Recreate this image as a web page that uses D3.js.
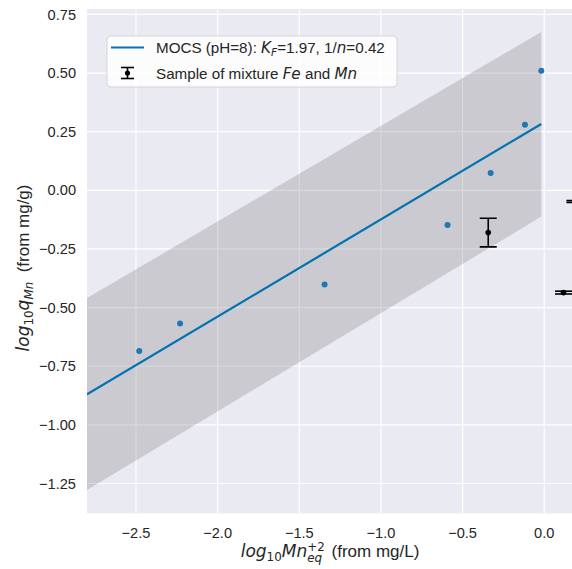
<!DOCTYPE html>
<html>
<head>
<meta charset="utf-8">
<script src="https://cdn.jsdelivr.net/npm/d3@7"></script>
<style>
	body { margin: 0; background: #ffffff; }
	svg { display: block; font-family: "Liberation Sans", Arial, sans-serif; }
</style>
</head>
<body>
<svg id="chart" width="572" height="569"></svg>
<script>
// Freundlich isotherm (log-log) for Mn on MOCS, with mixture samples as error bars

	// Measured points (blue dots)
var obsX = [-2.48, -2.23, -1.345, -0.592, -0.328, -0.118, -0.018];
var obsY = [-0.685, -0.568, -0.402, -0.148, 0.074, 0.279, 0.510];

	// Fitted line endpoints and the grey confidence band
var fitX = [-2.80, -0.018];
var fitY = [-0.870, 0.283];
var bandUp = [-0.459, 0.675];
var bandLo = [-1.278, -0.112];

	// Samples of mixture Fe and Mn (black error bars)
var mixX = [-0.343, 0.118, 0.188];
var mixY = [-0.180, -0.436, -0.048];
var mixErr = [0.061, 0.006, 0.004];

var xTicks = [-2.5, -2.0, -1.5, -1.0, -0.5, 0.0];
var yTicks = [0.75, 0.50, 0.25, 0.00, -0.25, -0.50, -0.75, -1.00, -1.25];

var M = { l: 87, t: 9, b: 513.3 };
var MATH = "'DejaVu Sans', sans-serif";

var svg = d3.select("#chart");

var x = d3.scaleLinear().domain([-2.8, 0.2]).range([M.l, M.l + 3*163.3]);
var y = d3.scaleLinear().domain([-1.377, 0.773]).range([M.b, M.t]);

var minus = function(v, n) { return d3.format("." + n + "f")(v).replace("-", "\u2212"); };

	// Plot background
svg.append("rect")
	.attr("x", M.l).attr("y", M.t)
	.attr("width", x.range()[1] - M.l).attr("height", M.b - M.t)
	.attr("fill", "#eaeaf2");

svg.append("clipPath").attr("id", "clip")
	.append("rect")
	.attr("x", M.l).attr("y", M.t)
	.attr("width", x.range()[1] - M.l).attr("height", M.b - M.t);

	// Gridlines (white, seaborn darkgrid)
var grid = svg.append("g");
grid.selectAll(".gx").data(xTicks).enter().append("line")
	.attr("x1", function(d) { return x(d); }).attr("x2", function(d) { return x(d); })
	.attr("y1", M.t).attr("y2", M.b)
	.attr("stroke", "#ffffff").attr("stroke-width", 1.2);
grid.selectAll(".gy").data(yTicks).enter().append("line")
	.attr("x1", M.l).attr("x2", x.range()[1])
	.attr("y1", function(d) { return y(d); }).attr("y2", function(d) { return y(d); })
	.attr("stroke", "#ffffff").attr("stroke-width", 1.2);

var plot = svg.append("g").attr("clip-path", "url(#clip)");

	// Confidence band
var bandPts = fitX.map(function(v, i) { return { x: v, lo: bandLo[i], hi: bandUp[i] }; });
plot.append("path")
	.datum(bandPts)
	.attr("d", d3.area()
		.x(function(d) { return x(d.x); })
		.y0(function(d) { return y(d.lo); })
		.y1(function(d) { return y(d.hi); }))
	.attr("fill", "#808080").attr("fill-opacity", 0.3);

	// Fitted line
plot.append("path")
	.datum(d3.zip(fitX, fitY))
	.attr("d", d3.line()
		.x(function(d) { return x(d[0]); })
		.y(function(d) { return y(d[1]); }))
	.attr("fill", "none").attr("stroke", "#0173b2").attr("stroke-width", 2.2);

	// Measured points
plot.selectAll(".pt").data(d3.zip(obsX, obsY)).enter().append("circle")
	.attr("cx", function(d) { return x(d[0]); })
	.attr("cy", function(d) { return y(d[1]); })
	.attr("r", 3)
	.attr("fill", "#1f77b4");

	// Mixture error bars
var eb = plot.selectAll(".eb").data(mixX.map(function(v, i) { return { x: v, y: mixY[i], e: mixErr[i] }; }))
	.enter().append("g")
	.attr("stroke", "#000000").attr("stroke-width", 1.6);
eb.append("line")
	.attr("x1", function(d) { return x(d.x); }).attr("x2", function(d) { return x(d.x); })
	.attr("y1", function(d) { return y(d.y + d.e); }).attr("y2", function(d) { return y(d.y - d.e); });
eb.append("line")
	.attr("x1", function(d) { return x(d.x) - 8.5; }).attr("x2", function(d) { return x(d.x) + 8.5; })
	.attr("y1", function(d) { return y(d.y + d.e); }).attr("y2", function(d) { return y(d.y + d.e); });
eb.append("line")
	.attr("x1", function(d) { return x(d.x) - 8.5; }).attr("x2", function(d) { return x(d.x) + 8.5; })
	.attr("y1", function(d) { return y(d.y - d.e); }).attr("y2", function(d) { return y(d.y - d.e); });
eb.append("circle")
	.attr("cx", function(d) { return x(d.x); }).attr("cy", function(d) { return y(d.y); })
	.attr("r", 2.8).attr("fill", "#000000").attr("stroke", "none");

	// Tick labels
svg.append("g").selectAll("text").data(xTicks).enter().append("text")
	.attr("x", function(d) { return x(d); }).attr("y", 537.5)
	.attr("text-anchor", "middle").attr("font-size", 14.6).attr("fill", "#262626")
	.text(function(d) { return minus(d, 1); });
svg.append("g").selectAll("text").data(yTicks).enter().append("text")
	.attr("x", 76).attr("y", function(d) { return y(d); }).attr("dy", "0.35em")
	.attr("text-anchor", "end").attr("font-size", 14.6).attr("fill", "#262626")
	.text(function(d) { return minus(d, 2); });

	// PURPOSE: Build a text with styled runs { t, m[ath font], i[talic], s[mall], sh[ift px], back }
	//			back = draw this run under the previous one (stacked sub/sup)
	// RETURNS: the text selection, left at x=0 on the baseline
function mathText(parent, parts, size)
{
	var el = parent.append("text").attr("font-size", size).attr("fill", "#262626");
	var prev = 0, last = null;
	parts.forEach(function(p) {
		var ts = el.append("tspan").text(p.t);
		var sh = p.sh || 0;
		if (p.m) ts.attr("font-family", MATH);
		if (p.i) ts.attr("font-style", "italic");
		if (p.s) ts.attr("font-size", size*0.7);
		ts.attr("dy", sh - prev);
		prev = sh;
		if (p.back && last) ts.attr("dx", -last.node().getComputedTextLength());
		last = ts;
	});
	return el;
} // mathText()

	// PURPOSE: Center a text horizontally on cx (in its own coordinates)
function centerText(el, cx)
{
	var bb = el.node().getBBox();
	el.attr("x", cx - bb.width/2 - bb.x);
}

	// Axis labels
var xl = mathText(svg, [
	{ t: "log", m: true, i: true }, { t: "10", m: true, s: true, sh: 4 }, { t: "Mn", m: true, i: true },
	{ t: "+2", m: true, s: true, sh: -6 }, { t: "eq", m: true, i: true, s: true, sh: 5, back: true },
	{ t: "\u00a0\u00a0(from mg/L)" }
], 17);
xl.attr("y", 556.5);
centerText(xl, 330);

var ylg = svg.append("g").attr("transform", "translate(29,268) rotate(-90)");
var yl = mathText(ylg, [
	{ t: "log", m: true, i: true }, { t: "10", m: true, s: true, sh: 4 }, { t: "q", m: true, i: true },
	{ t: "Mn", m: true, i: true, s: true, sh: 4 }, { t: "\u00a0\u00a0(from mg/g)" }
], 17);
centerText(yl, 0);

	// Legend
var lg = svg.append("g");
lg.append("rect")
	.attr("x", 107).attr("y", 36).attr("width", 290).attr("height", 51).attr("rx", 4)
	.attr("fill", "#ffffff").attr("fill-opacity", 0.85)
	.attr("stroke", "#d6d6d6").attr("stroke-width", 1);
lg.append("line")
	.attr("x1", 111).attr("x2", 144).attr("y1", 47.5).attr("y2", 47.5)
	.attr("stroke", "#0173b2").attr("stroke-width", 2.2);
var le = lg.append("g").attr("stroke", "#000000").attr("stroke-width", 1.6);
le.append("line").attr("x1", 127.5).attr("x2", 127.5).attr("y1", 67.5).attr("y2", 78.5);
le.append("line").attr("x1", 121).attr("x2", 134).attr("y1", 67.5).attr("y2", 67.5);
le.append("line").attr("x1", 121).attr("x2", 134).attr("y1", 78.5).attr("y2", 78.5);
le.append("circle").attr("cx", 127.5).attr("cy", 73).attr("r", 2.6).attr("fill", "#000000").attr("stroke", "none");

var t1 = mathText(lg, [
	{ t: "MOCS (pH=8): " }, { t: "K", m: true, i: true }, { t: "F", m: true, i: true, s: true, sh: 3 },
	{ t: "=1.97, 1/" }, { t: "n", m: true, i: true }, { t: "=0.42" }
], 15.2);
t1.attr("x", 156).attr("y", 53);
var t2 = mathText(lg, [
	{ t: "Sample of mixture " }, { t: "Fe", m: true, i: true }, { t: " and " }, { t: "Mn", m: true, i: true }
], 15.2);
t2.attr("x", 156).attr("y", 78.5);
</script>
</body>
</html>
